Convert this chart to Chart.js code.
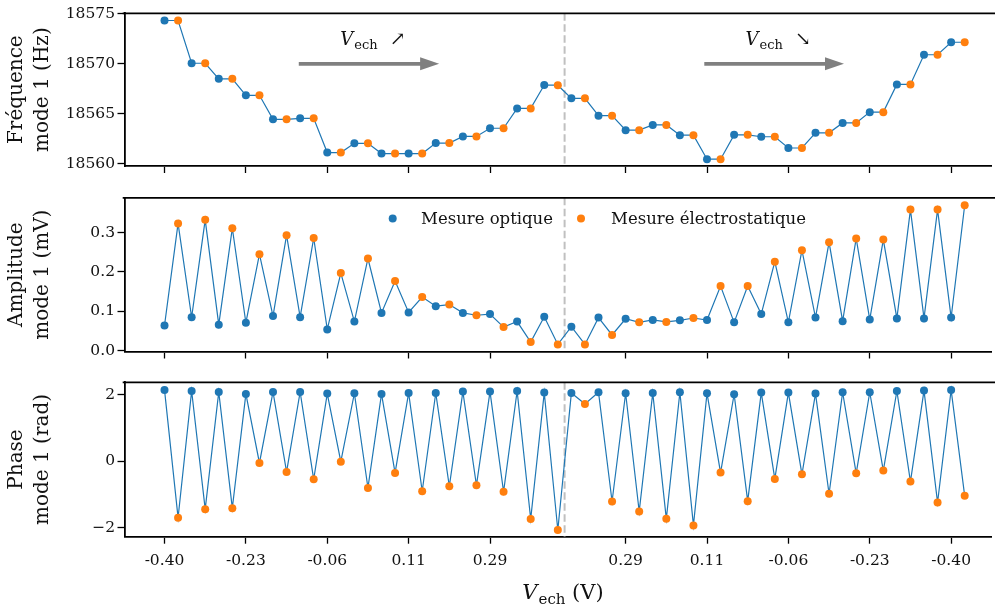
<!DOCTYPE html>
<html>
<head>
<meta charset="utf-8">
<script src="https://cdn.jsdelivr.net/npm/chart.js@4.4.1/dist/chart.umd.min.js"></script>
<style>
  html, body { margin: 0; padding: 0; background: #fff; }
  #wrap { position: relative; width: 995px; height: 608px; overflow: hidden; }
  #wrap canvas { position: absolute; left: 0; }
</style>
</head>
<body>
<div id="wrap">
  <canvas id="c-freq" width="995" height="186" style="top:0px"></canvas>
  <canvas id="c-amp" width="995" height="184" style="top:186px"></canvas>
  <canvas id="c-phase" width="995" height="238" style="top:370px"></canvas>
</div>
<script>
/* Mode 1 : fréquence / amplitude / phase le long d'un aller-retour de V_ech
   optique sur les indices pairs, électrostatique sur les impairs */

const BLUE = '#1f77b4';
const ORANGE = '#ff7f0e';
const SERIF = '"DejaVu Serif", serif';

// axe x : index de mesure, étiqueté par la tension
const xTickPos = [0, 6, 12, 18, 24, 34, 40, 46, 52, 58];
const xTickLabels = ['-0.40', '-0.23', '-0.06', '0.11', '0.29', '0.29', '0.11', '-0.06', '-0.23', '-0.40'];
const sweepTurn = 29.5;

const freqTicks = [18560, 18565, 18570, 18575];
const ampTicks = [0.0, 0.1, 0.2, 0.3];
const phaseTicks = [-2, 0, 2];

const freqOptique = [18574.33, 18570.06, 18568.51, 18566.86, 18564.46, 18564.56, 18561.14, 18562.06, 18561.04, 18561.04,
  18562.09, 18562.75, 18563.57, 18565.55, 18567.89, 18566.56, 18564.83, 18563.38, 18563.90, 18562.88,
  18560.48, 18562.91, 18562.72, 18561.60, 18563.11, 18564.10, 18565.18, 18567.95, 18570.91, 18572.16];
const freqElectro = [18574.33, 18570.06, 18568.51, 18566.86, 18564.46, 18564.56, 18561.14, 18562.06, 18561.04, 18561.04,
  18562.09, 18562.75, 18563.57, 18565.55, 18567.87, 18566.56, 18564.83, 18563.38, 18563.90, 18562.88,
  18560.48, 18562.91, 18562.72, 18561.60, 18563.11, 18564.10, 18565.18, 18567.95, 18570.91, 18572.16];

const ampOptique = [0.064, 0.085, 0.066, 0.071, 0.088, 0.085, 0.054, 0.074, 0.096, 0.097,
  0.113, 0.096, 0.093, 0.074, 0.086, 0.061, 0.084, 0.081, 0.078, 0.077,
  0.078, 0.072, 0.093, 0.072, 0.084, 0.075, 0.079, 0.082, 0.082, 0.084];
const ampElectro = [0.323, 0.332, 0.311, 0.245, 0.293, 0.286, 0.197, 0.234, 0.177, 0.136,
  0.117, 0.090, 0.060, 0.022, 0.016, 0.016, 0.040, 0.072, 0.073, 0.083,
  0.164, 0.164, 0.226, 0.255, 0.275, 0.285, 0.282, 0.358, 0.358, 0.369];

const phaseOptique = [2.15, 2.12, 2.09, 2.03, 2.09, 2.09, 2.04, 2.05, 2.03, 2.06,
  2.06, 2.10, 2.10, 2.12, 2.07, 2.06, 2.08, 2.05, 2.06, 2.08,
  2.05, 2.02, 2.07, 2.07, 2.04, 2.08, 2.08, 2.12, 2.13, 2.15];
const phaseElectro = [-1.70, -1.44, -1.41, -0.05, -0.32, -0.54, -0.01, -0.80, -0.35, -0.90,
  -0.75, -0.72, -0.92, -1.74, -2.07, 1.73, -1.21, -1.51, -1.73, -1.93,
  -0.34, -1.20, -0.53, -0.39, -0.98, -0.36, -0.28, -0.61, -1.24, -1.04];

function interleave(opt, ele) {
  const out = [];
  opt.forEach((v, k) => {
    out.push({ x: 2 * k, y: v });
    out.push({ x: 2 * k + 1, y: ele[k] });
  });
  return out;
}

// "V_ech" + suffixe, centré en cx
function drawVech(ctx, cx, base, size, suffix, sufSize) {
  const fBig = 'italic ' + size + 'px ' + SERIF;
  const fSub = Math.round(size * 0.72) + 'px ' + SERIF;
  const fNorm = (sufSize || size) + 'px ' + SERIF;
  ctx.font = fBig; const wV = ctx.measureText('V').width;
  ctx.font = fSub; const wE = ctx.measureText('ech').width;
  ctx.font = fNorm; const wS = ctx.measureText(suffix).width;
  let x = cx - (wV + wE + wS + 1) / 2;
  ctx.fillStyle = '#111';
  ctx.textAlign = 'left';
  ctx.textBaseline = 'alphabetic';
  ctx.font = fBig; ctx.fillText('V', x, base); x += wV + 1;
  ctx.font = fSub; ctx.fillText('ech', x, base + size * 0.22); x += wE;
  ctx.font = fNorm; ctx.fillText(suffix, x, base);
}

const topSpine = {
  id: 'topSpine',
  afterDraw(chart) {
    const { ctx, chartArea: a } = chart;
    ctx.save();
    ctx.strokeStyle = '#000';
    ctx.lineWidth = 1.8;
    ctx.beginPath();
    ctx.moveTo(a.left - 1.8, a.top);
    ctx.lineTo(995, a.top);
    ctx.stroke();
    ctx.restore();
  }
};

const sweepLine = {
  id: 'sweepLine',
  beforeDatasetsDraw(chart) {
    const { ctx, chartArea: a } = chart;
    const x = chart.scales.x.getPixelForValue(sweepTurn);
    ctx.save();
    ctx.strokeStyle = '#c0c0c0';
    ctx.lineWidth = 2;
    ctx.setLineDash([7.5, 3.5]);
    ctx.beginPath();
    ctx.moveTo(x, a.top);
    ctx.lineTo(x, a.bottom);
    ctx.stroke();
    ctx.restore();
  }
};

// flèches + texte au-dessus du panneau fréquence
const sweepArrows = {
  id: 'sweepArrows',
  afterDatasetsDraw(chart) {
    const { ctx } = chart;
    const sx = chart.scales.x, sy = chart.scales.y;
    const y = sy.getPixelForValue(18570);
    const tb = sy.getPixelForValue(18571.9);
    [[9.9, 20.25, '  \u2197'], [39.8, 50.1, '  \u2198']].forEach(([a, b, s]) => {
      const x1 = sx.getPixelForValue(a), x2 = sx.getPixelForValue(b);
      ctx.save();
      ctx.strokeStyle = '#808080';
      ctx.fillStyle = '#808080';
      ctx.lineWidth = 3.7;
      ctx.beginPath();
      ctx.moveTo(x1, y);
      ctx.lineTo(x2 - 18, y);
      ctx.stroke();
      ctx.beginPath();
      ctx.moveTo(x2 - 19, y - 6.5);
      ctx.lineTo(x2, y);
      ctx.lineTo(x2 - 19, y + 6.5);
      ctx.closePath();
      ctx.fill();
      drawVech(ctx, (x1 + x2) / 2 + 4, tb, 18, s, 19);
      ctx.restore();
    });
  }
};

const inLegend = {
  id: 'inLegend',
  afterDraw(chart) {
    const { ctx, chartArea: a } = chart;
    const y = a.top + 20.7;
    ctx.save();
    ctx.font = '16.5px ' + SERIF;
    ctx.textBaseline = 'middle';
    ctx.textAlign = 'left';
    [[268.2, 296.5, 0], [456.5, 486.5, 1]].forEach(([dx, tx, i]) => {
      const ds = chart.data.datasets[i];
      ctx.fillStyle = ds.backgroundColor;
      ctx.beginPath();
      ctx.arc(a.left + dx, y, 4, 0, Math.PI * 2);
      ctx.fill();
      ctx.fillStyle = '#111';
      ctx.fillText(ds.label, a.left + tx, y + 1);
    });
    ctx.restore();
  }
};

const xTitle = {
  id: 'xTitle',
  afterDraw(chart) {
    const { ctx } = chart;
    ctx.save();
    drawVech(ctx, 563, 229, 21, ' (V)');
    ctx.restore();
  }
};

function makePanel(id, p) {
  const canvas = document.getElementById(id);
  const H = canvas.height;
  return new Chart(canvas, {
    type: 'scatter',
    data: {
      datasets: [
        { label: 'Mesure optique', data: p.opt.map((v, k) => ({ x: 2 * k, y: v })),
          backgroundColor: BLUE, pointRadius: 4, pointBorderWidth: 0, pointHoverRadius: 4 },
        { label: 'Mesure électrostatique', data: p.ele.map((v, k) => ({ x: 2 * k + 1, y: v })),
          backgroundColor: ORANGE, pointRadius: 4, pointBorderWidth: 0, pointHoverRadius: 4 },
        { data: interleave(p.opt, p.ele), showLine: true, borderColor: BLUE, borderWidth: 1.2,
          pointRadius: 0, fill: false }
      ]
    },
    options: {
      responsive: false,
      animation: false,
      devicePixelRatio: 1,
      events: [],
      layout: { padding: { top: p.top, left: 0, right: 0, bottom: 0 } },
      plugins: { legend: { display: false }, tooltip: { enabled: false } },
      scales: {
        x: {
          type: 'linear', min: -2.95, max: 60.94,
          afterBuildTicks: s => { s.ticks = xTickPos.map(v => ({ value: v })); },
          afterFit: s => { s.height = H - p.bottom; },
          ticks: {
            autoSkip: false, maxRotation: 0, padding: 8,
            font: { family: SERIF, size: 15.5 }, color: '#111',
            callback: (v, i) => p.showX ? xTickLabels[i] : ''
          },
          grid: { drawOnChartArea: false, tickLength: 7, tickWidth: 1.3, tickColor: '#000' },
          border: { color: '#000', width: 1.8 }
        },
        y: {
          type: 'linear', min: p.yMin, max: p.yMax,
          afterBuildTicks: s => { s.ticks = p.yTicks.map(v => ({ value: v })); },
          afterFit: s => { s.width = 124.5; },
          ticks: {
            padding: 2.5, font: { family: SERIF, size: 15.5 }, color: '#111',
            callback: v => p.fmt(v)
          },
          grid: { drawOnChartArea: false, tickLength: 7, tickWidth: 1.3, tickColor: '#000' },
          border: { color: '#000', width: 1.8 },
          title: {
            display: true, text: p.title, color: '#111',
            font: { family: SERIF, size: 20, lineHeight: 1.3 },
            padding: { top: 4, bottom: 0 }
          }
        }
      }
    },
    plugins: [topSpine, sweepLine].concat(p.extra || [])
  });
}

makePanel('c-freq', {
  opt: freqOptique, ele: freqElectro, yMin: 18559.8, yMax: 18575.05, yTicks: freqTicks,
  fmt: v => String(v), title: ['Fréquence', 'mode 1 (Hz)'],
  top: 13.3, bottom: 166, showX: false, extra: [sweepArrows]
});

makePanel('c-amp', {
  opt: ampOptique, ele: ampElectro, yMin: -0.002, yMax: 0.388, yTicks: ampTicks,
  fmt: v => v.toFixed(1), title: ['Amplitude', 'mode 1 (mV)'],
  top: 11.3, bottom: 165.5, showX: false, extra: [inLegend]
});

makePanel('c-phase', {
  opt: phaseOptique, ele: phaseElectro, yMin: -2.27, yMax: 2.38, yTicks: phaseTicks,
  fmt: v => v < 0 ? '\u2212' + Math.abs(v) : String(v), title: ['Phase', 'mode 1 (rad)'],
  top: 12.3, bottom: 166.7, showX: true, extra: [xTitle]
});
</script>
</body>
</html>
